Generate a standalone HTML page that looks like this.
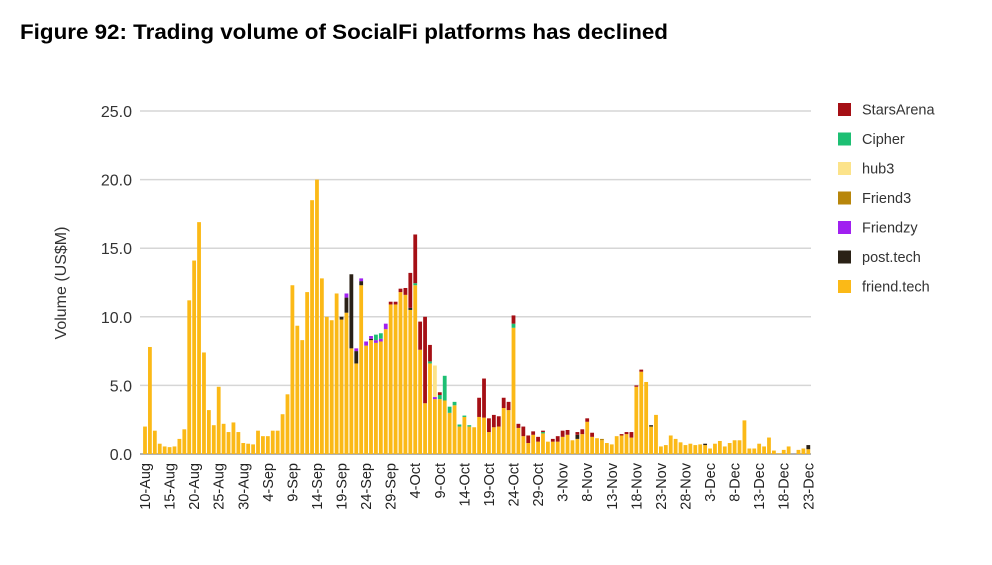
<!DOCTYPE html>
<html><head><meta charset="utf-8">
<style>
html,body{margin:0;padding:0;background:#fff;}
body{width:992px;height:560px;overflow:hidden;font-family:"Liberation Sans",sans-serif;}
</style></head>
<body>
<svg id="chart" width="992" height="560" xmlns="http://www.w3.org/2000/svg" font-family="Liberation Sans, sans-serif">
<text x="20" y="39" font-size="21" font-weight="bold" fill="#000" textLength="648" lengthAdjust="spacingAndGlyphs">Figure 92: Trading volume of SocialFi platforms has declined</text>
<text transform="translate(66,283) rotate(-90)" text-anchor="middle" font-size="16" fill="#333">Volume (US$M)</text>
<g id="grid"></g><g id="bars"></g><g id="xlabels"></g><g id="legend"></g>
</svg>
<script>
const yTicks=[0,5,10,15,20,25];
const yTickLabels=["0.0","5.0","10.0","15.0","20.0","25.0"];
const xLabels=["10-Aug","15-Aug","20-Aug","25-Aug","30-Aug","4-Sep","9-Sep","14-Sep","19-Sep","24-Sep","29-Sep","4-Oct","9-Oct","14-Oct","19-Oct","24-Oct","29-Oct","3-Nov","8-Nov","13-Nov","18-Nov","23-Nov","28-Nov","3-Dec","8-Dec","13-Dec","18-Dec","23-Dec"];
const friendTech=[2.0,7.8,1.7,0.75,0.55,0.5,0.55,1.1,1.8,11.2,
14.1,16.9,7.4,3.2,2.1,4.9,2.2,1.6,2.3,1.6,
0.8,0.75,0.7,1.7,1.3,1.3,1.7,1.7,2.9,4.35,
12.3,9.35,8.3,11.8,18.5,20.0,12.8,10.0,9.75,11.7,
9.8,10.3,7.7,6.6,12.3,7.9,8.3,8.1,8.2,9.1,
10.9,10.9,11.8,11.6,10.5,12.3,7.6,3.7,6.6,4.0,
4.0,3.9,3.0,3.55,2.0,2.7,2.0,1.95,2.7,2.65,
1.6,1.95,2.0,3.35,3.2,9.2,1.9,1.3,0.8,1.4,
0.9,1.5,0.9,0.9,0.9,1.25,1.4,1.0,1.1,1.45,
2.35,1.25,1.15,1.0,0.8,0.7,1.3,1.35,1.45,1.2,
4.9,6.0,5.25,2.0,2.85,0.55,0.65,1.35,1.1,0.85,
0.65,0.75,0.65,0.7,0.65,0.4,0.75,0.95,0.55,0.8,
1.0,1.0,2.45,0.4,0.4,0.75,0.55,1.2,0.25,0.05,
0.3,0.55,0,0.3,0.4,0.35];
// [dayIndex, value] pairs for smaller platforms (others are zero)
const postTech=[[40,0.2],[41,1.1],[42,5.4],[43,0.9],[44,0.3],[46,0.1],[54,0.15],[88,0.3],[103,0.1],[114,0.1],[135,0.3]];
const friendzy=[[41,0.3],[43,0.2],[44,0.2],[45,0.3],[46,0.2],[47,0.2],[48,0.2],[49,0.4],[59,0.15]];
const friend3=[[93,0.1]];
const hub3=[[59,2.3]];
const cipher=[[47,0.4],[48,0.4],[55,0.15],[58,0.15],[60,0.3],[61,1.8],[62,0.45],[63,0.25],[64,0.15],[65,0.1],[66,0.1],[75,0.3],[81,0.1]];
const starsArena=[[50,0.2],[51,0.2],[52,0.25],[53,0.5],[54,2.55],[55,3.55],[56,2.05],[57,6.3],[58,1.2],[60,0.2],[68,1.4],[69,2.85],[70,1.0],[71,0.9],[72,0.75],[73,0.75],[74,0.6],[75,0.6],[76,0.3],[77,0.7],[78,0.55],[79,0.25],[80,0.35],[81,0.1],[83,0.2],[84,0.4],[85,0.45],[86,0.35],[88,0.2],[89,0.35],[90,0.25],[91,0.3],[97,0.1],[98,0.15],[99,0.4],[100,0.1],[101,0.15]];

const NS="http://www.w3.org/2000/svg";
const N=friendTech.length;
const x0=145,x1=808.3,yBase=454,yTop=111,yMax=25;
const xScale=i=>x0+i*(x1-x0)/(N-1);
const yScale=v=>yBase-v*(yBase-yTop)/yMax;
function mk(tag,attrs,parent){const e=document.createElementNS(NS,tag);for(const k in attrs)e.setAttribute(k,attrs[k]);parent.appendChild(e);return e;}
const grid=document.getElementById('grid');
yTicks.forEach((t,i)=>{
  const l=mk('line',{x1:140,x2:811,y1:yScale(t),y2:yScale(t),stroke:t===0?'#999':'#d6d6d6','stroke-width':1.5},grid);
  
  
  const tx=mk('text',{x:132,y:yScale(t)+6,'text-anchor':'end','font-size':16,fill:'#333'},grid);
  tx.textContent=yTickLabels[i];
  
  
});
const series=[
 {name:'friend.tech',color:'#FBB917',vals:friendTech},
 {name:'post.tech',color:'#2A2116',pairs:postTech},
 {name:'Friendzy',color:'#A020F0',pairs:friendzy},
 {name:'Friend3',color:'#B8860B',pairs:friend3},
 {name:'hub3',color:'#FCE38A',pairs:hub3},
 {name:'Cipher',color:'#1DBF73',pairs:cipher},
 {name:'StarsArena',color:'#A50F15',pairs:starsArena}
];
series.forEach(s=>{ if(!s.vals){s.vals=new Array(N).fill(0);s.pairs.forEach(p=>{s.vals[p[0]]=p[1];});} });
const bars=document.getElementById('bars');
const bw=3.8;
for(let i=0;i<N;i++){
  let acc=0;
  series.forEach(s=>{
    const v=s.vals[i]; if(!v) return;
    const yA=yScale(acc+v), yB=yScale(acc);
    const r=mk('rect',{x:xScale(i)-bw/2,y:yA,width:bw,height:yB-yA,fill:s.color},bars);
    
    
    acc+=v;
  });
}
const xl=document.getElementById('xlabels');
xLabels.forEach((lab,k)=>{
  const x=xScale(k*5);
  const t=mk('text',{transform:`translate(${x+5},463) rotate(-90)`,'text-anchor':'end','font-size':14.5,fill:'#222'},xl);
  t.textContent=lab;
  
  
});
const lg=document.getElementById('legend');
series.slice().reverse().forEach((s,k)=>{
  const y=109+k*29.5;
  const g=mk('g',{},lg);
  
  
  mk('rect',{x:838,y:y-6,width:13,height:13,fill:s.color},g);
  const t=mk('text',{x:862,y:y+5.5,'font-size':14.5,fill:'#333'},g);
  t.textContent=s.name;
});
</script>
</body></html>
